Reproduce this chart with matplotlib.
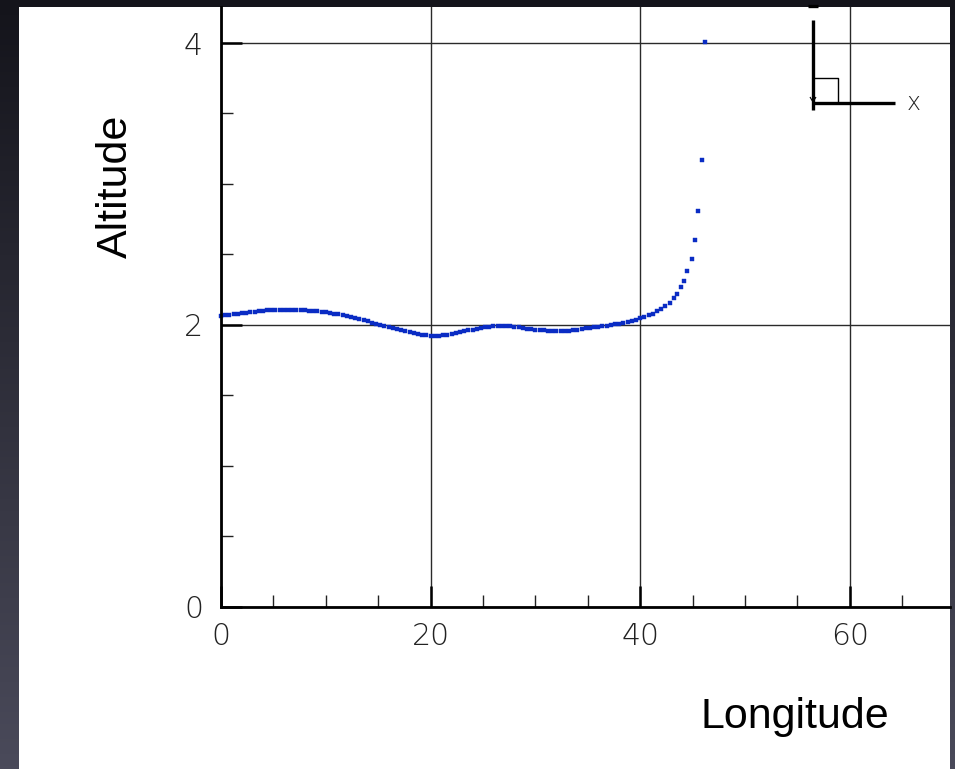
import numpy as np
import matplotlib
matplotlib.use("Agg")
import matplotlib.pyplot as plt
from matplotlib.lines import Line2D
from matplotlib.patches import Rectangle
from matplotlib.colors import LinearSegmentedColormap

# ---------------- data ----------------
longitude = [
    0.0, 0.4, 0.8, 1.2, 1.6, 2.0, 2.4, 2.8, 3.2, 3.6, 4.0, 4.4, 4.8, 5.2, 5.6,
    6.0, 6.4, 6.8, 7.2, 7.6, 8.0, 8.4, 8.8, 9.2, 9.6, 10.0, 10.4, 10.8, 11.2,
    11.6, 12.0, 12.4, 12.8, 13.2, 13.6, 14.0, 14.4, 14.8, 15.2, 15.6, 16.0,
    16.4, 16.8, 17.2, 17.6, 18.0, 18.4, 18.8, 19.2, 19.6, 20.0, 20.4, 20.8,
    21.2, 21.6, 22.0, 22.4, 22.8, 23.2, 23.6, 24.0, 24.4, 24.8, 25.2, 25.6,
    26.0, 26.4, 26.8, 27.2, 27.6, 28.0, 28.4, 28.8, 29.2, 29.6, 30.0, 30.4,
    30.8, 31.2, 31.6, 32.0, 32.4, 32.8, 33.2, 33.6, 34.0, 34.4, 34.8, 35.2,
    35.6, 36.0, 36.4, 36.8, 37.2, 37.6, 38.0, 38.4, 38.8, 39.2, 39.6, 40.0,
    40.4, 40.8, 41.2, 41.6, 42.0, 42.4, 42.8, 43.2, 43.5, 43.9, 44.2, 44.5,
    44.9, 45.2, 45.55, 45.87, 46.15,
]
altitude = [
    2.062, 2.066, 2.070, 2.074, 2.078, 2.083, 2.087, 2.090, 2.094, 2.097,
    2.100, 2.102, 2.104, 2.106, 2.107, 2.108, 2.108, 2.107, 2.106, 2.105,
    2.103, 2.101, 2.098, 2.095, 2.092, 2.089, 2.084, 2.079, 2.073, 2.067,
    2.061, 2.054, 2.047, 2.039, 2.032, 2.024, 2.016, 2.008, 2.000, 1.993,
    1.986, 1.979, 1.971, 1.964, 1.957, 1.950, 1.943, 1.936, 1.930, 1.925,
    1.921, 1.919, 1.920, 1.924, 1.930, 1.936, 1.942, 1.948, 1.954, 1.960,
    1.966, 1.971, 1.977, 1.982, 1.986, 1.989, 1.991, 1.992, 1.991, 1.989,
    1.986, 1.982, 1.977, 1.973, 1.969, 1.965, 1.962, 1.960, 1.958, 1.957,
    1.956, 1.956, 1.957, 1.959, 1.962, 1.966, 1.970, 1.974, 1.978, 1.982,
    1.986, 1.990, 1.994, 1.998, 2.002, 2.006, 2.012, 2.019, 2.026, 2.035,
    2.045, 2.056, 2.067, 2.080, 2.096, 2.113, 2.133, 2.158, 2.19, 2.22,
    2.27, 2.31, 2.38, 2.47, 2.60, 2.81, 3.17, 4.005,
]
x_major = [0, 20, 40, 60]
y_major = [0, 2, 4]
x_tick_labels = ["0", "20", "40", "60"]
y_tick_labels = ["0", "2", "4"]
x_label = "Longitude"
y_label = "Altitude"

# ---------------- figure ----------------
W, H = 955, 769
fig = plt.figure(figsize=(W / 100, H / 100), dpi=100)

def fx(px):
    return px / W

def fy(py):
    return 1 - py / H

# dark gradient backdrop
bg = fig.add_axes([0, 0, 1, 1], zorder=-10)
grad = np.linspace(0, 1, 256).reshape(-1, 1)
cmap = LinearSegmentedColormap.from_list("bgc", ["#14141b", "#4a4a5a"])
bg.imshow(grad, aspect="auto", cmap=cmap, extent=[0, 1, 0, 1], origin="upper")
bg.axis("off")
fig.patches.append(Rectangle((fx(19), 0), fx(950) - fx(19), fy(7),
                             transform=fig.transFigure, facecolor="white",
                             edgecolor="none", zorder=-5))

ax_left, ax_right, ax_top, ax_bottom = 221, 950, 7, 606.5
ax = fig.add_axes([fx(ax_left), fy(ax_bottom), fx(ax_right) - fx(ax_left),
                   fy(ax_top) - fy(ax_bottom)])
ax.set_facecolor("none")

ax.set_xlim(0, 69.56)
ax.set_ylim(0, 4.256)

ax.plot(longitude, altitude, linestyle="none", marker="s", markersize=2.4,
        markerfacecolor="#0a2cc4", markeredgecolor="#0a2cc4",
        markeredgewidth=0.3, clip_on=False, zorder=5)

for s in ["top", "right"]:
    ax.spines[s].set_visible(False)
for s in ["left", "bottom"]:
    ax.spines[s].set_linewidth(2.0)
    ax.spines[s].set_color("black")
    ax.spines[s].set_zorder(6)

ax.set_xticks(x_major)
ax.set_xticklabels(x_tick_labels)
ax.set_yticks(y_major)
ax.set_yticklabels(y_tick_labels)
ax.set_xticks(np.arange(5, 70, 5), minor=True)
ax.set_yticks(np.arange(0.5, 4.26, 0.5), minor=True)

ax.grid(True, which="major", color="#2a2a2a", linewidth=1.0)
ax.set_axisbelow(True)

ax.tick_params(which="major", direction="in", length=15, width=1.8,
               color="black", labelsize=21.5, labelcolor="#222222")
ax.tick_params(axis="x", which="major", pad=11)
ax.tick_params(axis="y", which="major", pad=13)
ax.tick_params(which="minor", direction="in", length=8.5, width=1.0,
               color="#222222")
for lab in ax.get_xticklabels() + ax.get_yticklabels():
    lab.set_fontfamily("DejaVu Sans")
    lab.set_fontweight(200)

fig.text(fx(795), fy(717), x_label, ha="center", va="center",
         fontsize=31, family="Liberation Sans", color="black")
fig.text(fx(116), fy(186), y_label, ha="center", va="center", rotation=90,
         fontsize=31, family="Liberation Sans", color="black")

# orientation glyph in the upper right corner
def fline(xs, ys, lw, color="black"):
    fig.add_artist(Line2D([fx(v) for v in xs], [fy(v) for v in ys],
                          transform=fig.transFigure, linewidth=lw,
                          color=color, solid_capstyle="butt", zorder=20))

fline([813, 813], [20, 110], 2.4)
fline([813, 895], [102.5, 102.5], 2.4)
fline([813, 838, 838], [78, 78, 102.5], 1.0)
fline([808, 818], [6, 6], 2.4)
fline([810, 813, 816], [97, 102, 97], 0.8)
fig.text(fx(914), fy(103), "x", ha="center", va="center", fontsize=17,
         family="DejaVu Sans", fontweight=200, color="#222222")

fig.savefig("out.png", dpi=100)
